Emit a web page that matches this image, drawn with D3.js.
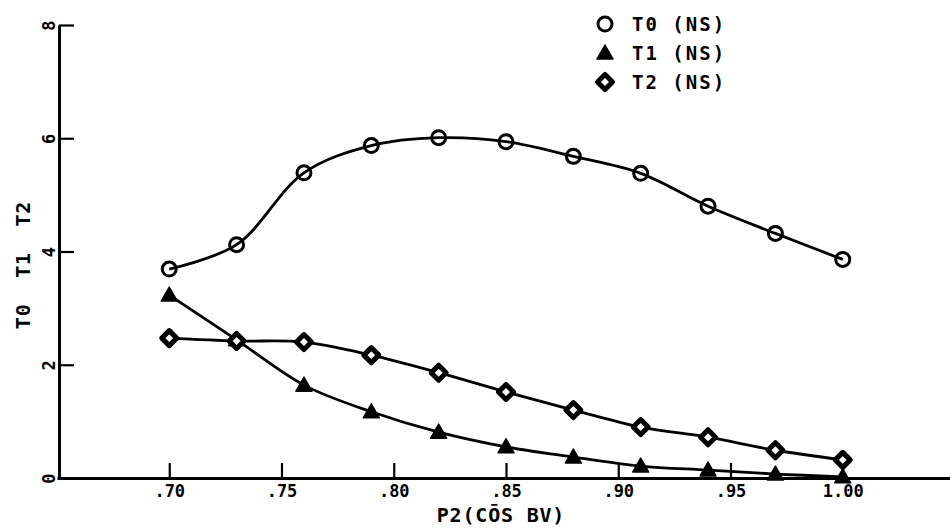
<!DOCTYPE html>
<html>
<head>
<meta charset="utf-8">
<script src="https://cdn.jsdelivr.net/npm/d3@7"></script>
<style>
  html, body { margin: 0; padding: 0; background: #fff; }
  svg { display: block; }
  text { font-family: "DejaVu Sans Mono", "Liberation Mono", monospace; font-weight: bold; fill: #000; }
</style>
</head>
<body>
<svg id="chart" width="950" height="529"></svg>
<script>
// ---- data ----
const xValues = [0.70, 0.73, 0.76, 0.79, 0.82, 0.85, 0.88, 0.91, 0.94, 0.97, 1.00];
const t0Values = [3.69, 4.12, 5.39, 5.87, 6.01, 5.94, 5.68, 5.38, 4.80, 4.32, 3.86];
const t1Values = [3.23, 2.44, 1.64, 1.17, 0.81, 0.55, 0.37, 0.21, 0.14, 0.07, 0.02];
const t2Values = [2.47, 2.42, 2.40, 2.17, 1.86, 1.52, 1.20, 0.90, 0.72, 0.49, 0.32];
const xTickValues = [0.70, 0.75, 0.80, 0.85, 0.90, 0.95, 1.00];
const xTickLabels = [".70", ".75", ".80", ".85", ".90", ".95", "1.00"];
const yTickValues = [0, 2, 4, 6, 8];
const yTickLabels = ["0", "2", "4", "6", "8"];
const seriesNames = ["T0 (NS)", "T1 (NS)", "T2 (NS)"];
const xTitle = "P2(CŌS BV)";
const yTitle = "T0  T1  T2";

// ---- layout ----
const svg = d3.select("#chart");
const x = d3.scaleLinear().domain([0.65, 1.05]).range([57, 955]);
const y = d3.scaleLinear().domain([0, 8]).range([478, 25]);
const axisX = 59;

// x axis
const gx = svg.append("g").attr("transform", `translate(0,${y(0)})`)
  .call(d3.axisBottom(x).tickValues(xTickValues).tickSize(-15).tickSizeOuter(0)
    .tickFormat((d, i) => xTickLabels[i]));
gx.select(".domain").attr("stroke", "#000").attr("stroke-width", 3);
gx.selectAll(".tick line").attr("stroke", "#000").attr("stroke-width", 2.2);
gx.selectAll(".tick text").attr("y", 19).attr("dy", 0)
  .style("font-size", "17px").attr("fill", "#000");

// y axis
const gy = svg.append("g").attr("transform", `translate(${axisX},0)`)
  .call(d3.axisLeft(y).tickValues(yTickValues).tickSize(-15).tickSizeOuter(0)
    .tickFormat((d, i) => yTickLabels[i]));
gy.select(".domain").attr("stroke", "#000").attr("stroke-width", 3);
gy.selectAll(".tick line").attr("stroke", "#000").attr("stroke-width", 2.2);
gy.selectAll(".tick text").attr("x", 0).attr("dy", 0)
  .attr("text-anchor", "middle")
  .attr("transform", "translate(-4,0) rotate(-90)")
  .style("font-size", "17px").attr("fill", "#000");

// titles
svg.append("text").attr("x", 501).attr("y", 522).attr("text-anchor", "middle")
  .style("font-size", "20px").style("letter-spacing", "0.8px").text(xTitle);
svg.append("text").attr("transform", `translate(30,265) rotate(-90)`)
  .attr("text-anchor", "middle")
  .style("font-size", "20px").style("letter-spacing", "0.8px")
  .style("white-space", "pre").attr("xml:space", "preserve").text(yTitle);

// lines
const series = [t0Values, t1Values, t2Values];
const line = d3.line().x(d => x(d[0])).y(d => y(d[1])).curve(d3.curveCatmullRom.alpha(0.5));
series.forEach(vals => {
  svg.append("path")
    .datum(xValues.map((xv, i) => [xv, vals[i]]))
    .attr("d", line).attr("fill", "none").attr("stroke", "#000").attr("stroke-width", 2.8);
});

// markers
function drawMarker(g, type, cx, cy) {
  if (type === 0) {
    g.append("circle").attr("cx", cx).attr("cy", cy).attr("r", 7)
      .attr("fill", "none").attr("stroke", "#000").attr("stroke-width", 3);
  } else if (type === 1) {
    g.append("path").attr("transform", `translate(${cx},${cy})`)
      .attr("d", "M0,-8 L8,6 L-8,6 Z").attr("fill", "#000").attr("stroke", "#000")
      .attr("stroke-width", 1.5).attr("stroke-linejoin", "round");
  } else {
    g.append("path").attr("transform", `translate(${cx},${cy})`)
      .attr("d", "M0,-7.5 L7.5,0 L0,7.5 L-7.5,0 Z").attr("fill", "#fff").attr("stroke", "#000")
      .attr("stroke-width", 5).attr("stroke-linejoin", "round");
  }
}
const gm = svg.append("g");
series.forEach((vals, s) => {
  xValues.forEach((xv, i) => drawMarker(gm, s, x(xv), y(vals[i])));
});

// legend
const legend = svg.append("g");
seriesNames.forEach((name, i) => {
  const ly = 24 + i * 29;
  drawMarker(legend, i, 605, ly);
  legend.append("text").attr("x", 632).attr("y", ly).attr("dy", "0.36em")
    .style("font-size", "19px").style("letter-spacing", "2px")
    .attr("xml:space", "preserve").text(name);
});
</script>
</body>
</html>
